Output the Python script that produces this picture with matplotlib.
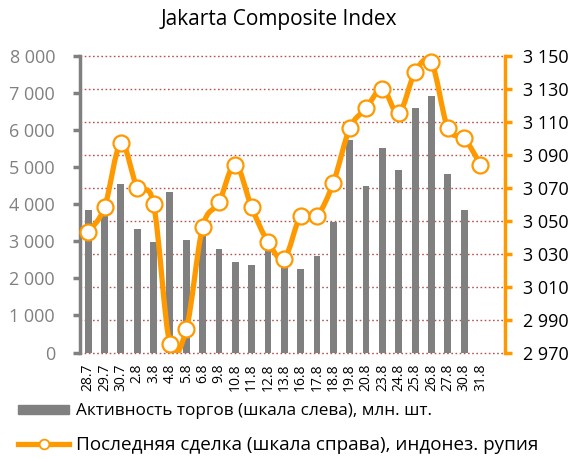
import numpy as np
import matplotlib
matplotlib.use("Agg")
import matplotlib.pyplot as plt
from matplotlib.path import Path
from matplotlib.patches import PathPatch
from matplotlib.lines import Line2D
from matplotlib.ticker import FuncFormatter, MultipleLocator, FixedLocator
from matplotlib.transforms import blended_transform_factory

plt.rcParams["font.family"] = ["Open Sans", "DejaVu Sans"]

# data
dates = ["28.7", "29.7", "30.7", "2.8", "3.8", "4.8", "5.8", "6.8", "9.8",
         "10.8", "11.8", "12.8", "13.8", "16.8", "17.8", "18.8", "19.8",
         "20.8", "23.8", "24.8", "25.8", "26.8", "27.8", "30.8", "31.8"]
volume = [3830, 3750, 4530, 3340, 2970, 4320, 3020, 3200, 2800,
          2430, 2370, 2770, 2330, 2260, 2600, 3510, 5720,
          4480, 5510, 4910, 6580, 6910, 4800, 3830, np.nan]
last = [3043, 3058, 3097, 3070, 3060, 2975, 2984, 3046, 3061,
        3084, 3058, 3037, 3027, 3053, 3053, 3073, 3106,
        3118, 3130, 3115, 3140, 3146, 3106, 3100, 3084]
right_ticks = np.arange(2970, 3151, 20)

GRAY = "#808080"
ORANGE = "#FF9900"
GRID = "#B85450"


def fmt(v, pos):
    return f"{v:,.0f}".replace(",", "\u00a0")


def smooth_path(xs, ys):
    # Catmull-Rom style bezier, like Excel's smoothed line
    pts = np.column_stack([xs, ys]).astype(float)
    verts = [pts[0]]
    codes = [Path.MOVETO]
    n = len(pts)
    for i in range(n - 1):
        p0 = pts[i - 1] if i > 0 else pts[i]
        p1, p2 = pts[i], pts[i + 1]
        p3 = pts[i + 2] if i + 2 < n else pts[i + 1]
        c1 = p1 + (p2 - p0) / 6
        c2 = p2 - (p3 - p1) / 6
        verts += [c1, c2, p2]
        codes += [Path.CURVE4] * 3
    return Path(verts, codes)


fig = plt.figure(figsize=(5.74, 4.59), dpi=100)
ax = fig.add_axes([0.1394, 0.232, 0.7404, 0.6467])
ax2 = ax.twinx()

x = np.arange(len(dates))
ax.bar(x, volume, width=0.42, color=GRAY, zorder=2)
ax.set_xlim(-0.5, len(dates) + 0.5)
ax.set_ylim(0, 8000)
ax.yaxis.set_major_locator(MultipleLocator(1000))
ax.yaxis.set_major_formatter(FuncFormatter(fmt))

ax2.set_ylim(2970, 3150)
ax2.yaxis.set_major_locator(FixedLocator(right_ticks))
ax2.yaxis.set_major_formatter(FuncFormatter(fmt))

# gridlines follow the right scale but sit behind the bars
tr = blended_transform_factory(ax.transAxes, ax2.transData)
for v in right_ticks:
    ax.plot([0, 1], [v, v], transform=tr, color=GRID, lw=1.0,
            ls=(0, (1.2, 1.8)), zorder=0, clip_on=False)

ax2.add_patch(PathPatch(smooth_path(x, last), facecolor="none",
                        edgecolor=ORANGE, lw=3.8, capstyle="round",
                        joinstyle="round", zorder=3))
ax2.plot(x, last, ls="none", marker="o", ms=11.5, mfc="white",
         mec=ORANGE, mew=1.6, zorder=4, clip_on=False)

for a in (ax, ax2):
    a.spines["top"].set_visible(False)
    a.spines["bottom"].set_visible(False)
ax.spines["right"].set_visible(False)
ax2.spines["left"].set_visible(False)
ax.spines["left"].set_color(GRAY)
ax.spines["left"].set_linewidth(2.5)
ax2.spines["right"].set_color(ORANGE)
ax2.spines["right"].set_linewidth(2.5)

ax.tick_params(axis="y", colors=GRAY, labelcolor=GRAY, length=5, width=2.5,
               labelsize=13, pad=13)
ax2.tick_params(axis="y", colors=ORANGE, labelcolor="black", length=5,
                width=2.5, labelsize=13, pad=8)
ax.set_xticks(x)
ax.set_xticklabels(dates, rotation=90, fontsize=10)
ax.tick_params(axis="x", length=0, pad=8)

fig.text(0.486, 0.958, "Jakarta Composite Index", ha="center", va="center",
         fontsize=15)

handles = [
    plt.Rectangle((0, 0), 1, 1, color=GRAY),
    Line2D([], [], color=ORANGE, lw=3.8, marker="o", ms=7, mfc="white",
           mec=ORANGE, mew=1.3),
]
labels = ["Активность торгов (шкала слева), млн. шт.",
          "Последняя сделка (шкала справа), индонез. рупия"]
leg = fig.legend(handles, labels, loc="lower left",
                 bbox_to_anchor=(0.005, -0.022), frameon=False, fontsize=12.3,
                 handlelength=3.0, handleheight=0.5, handletextpad=0.4,
                 labelspacing=0.95)
leg.get_texts()[1].set_fontsize(13.6)

fig.savefig("out.png", dpi=100)
